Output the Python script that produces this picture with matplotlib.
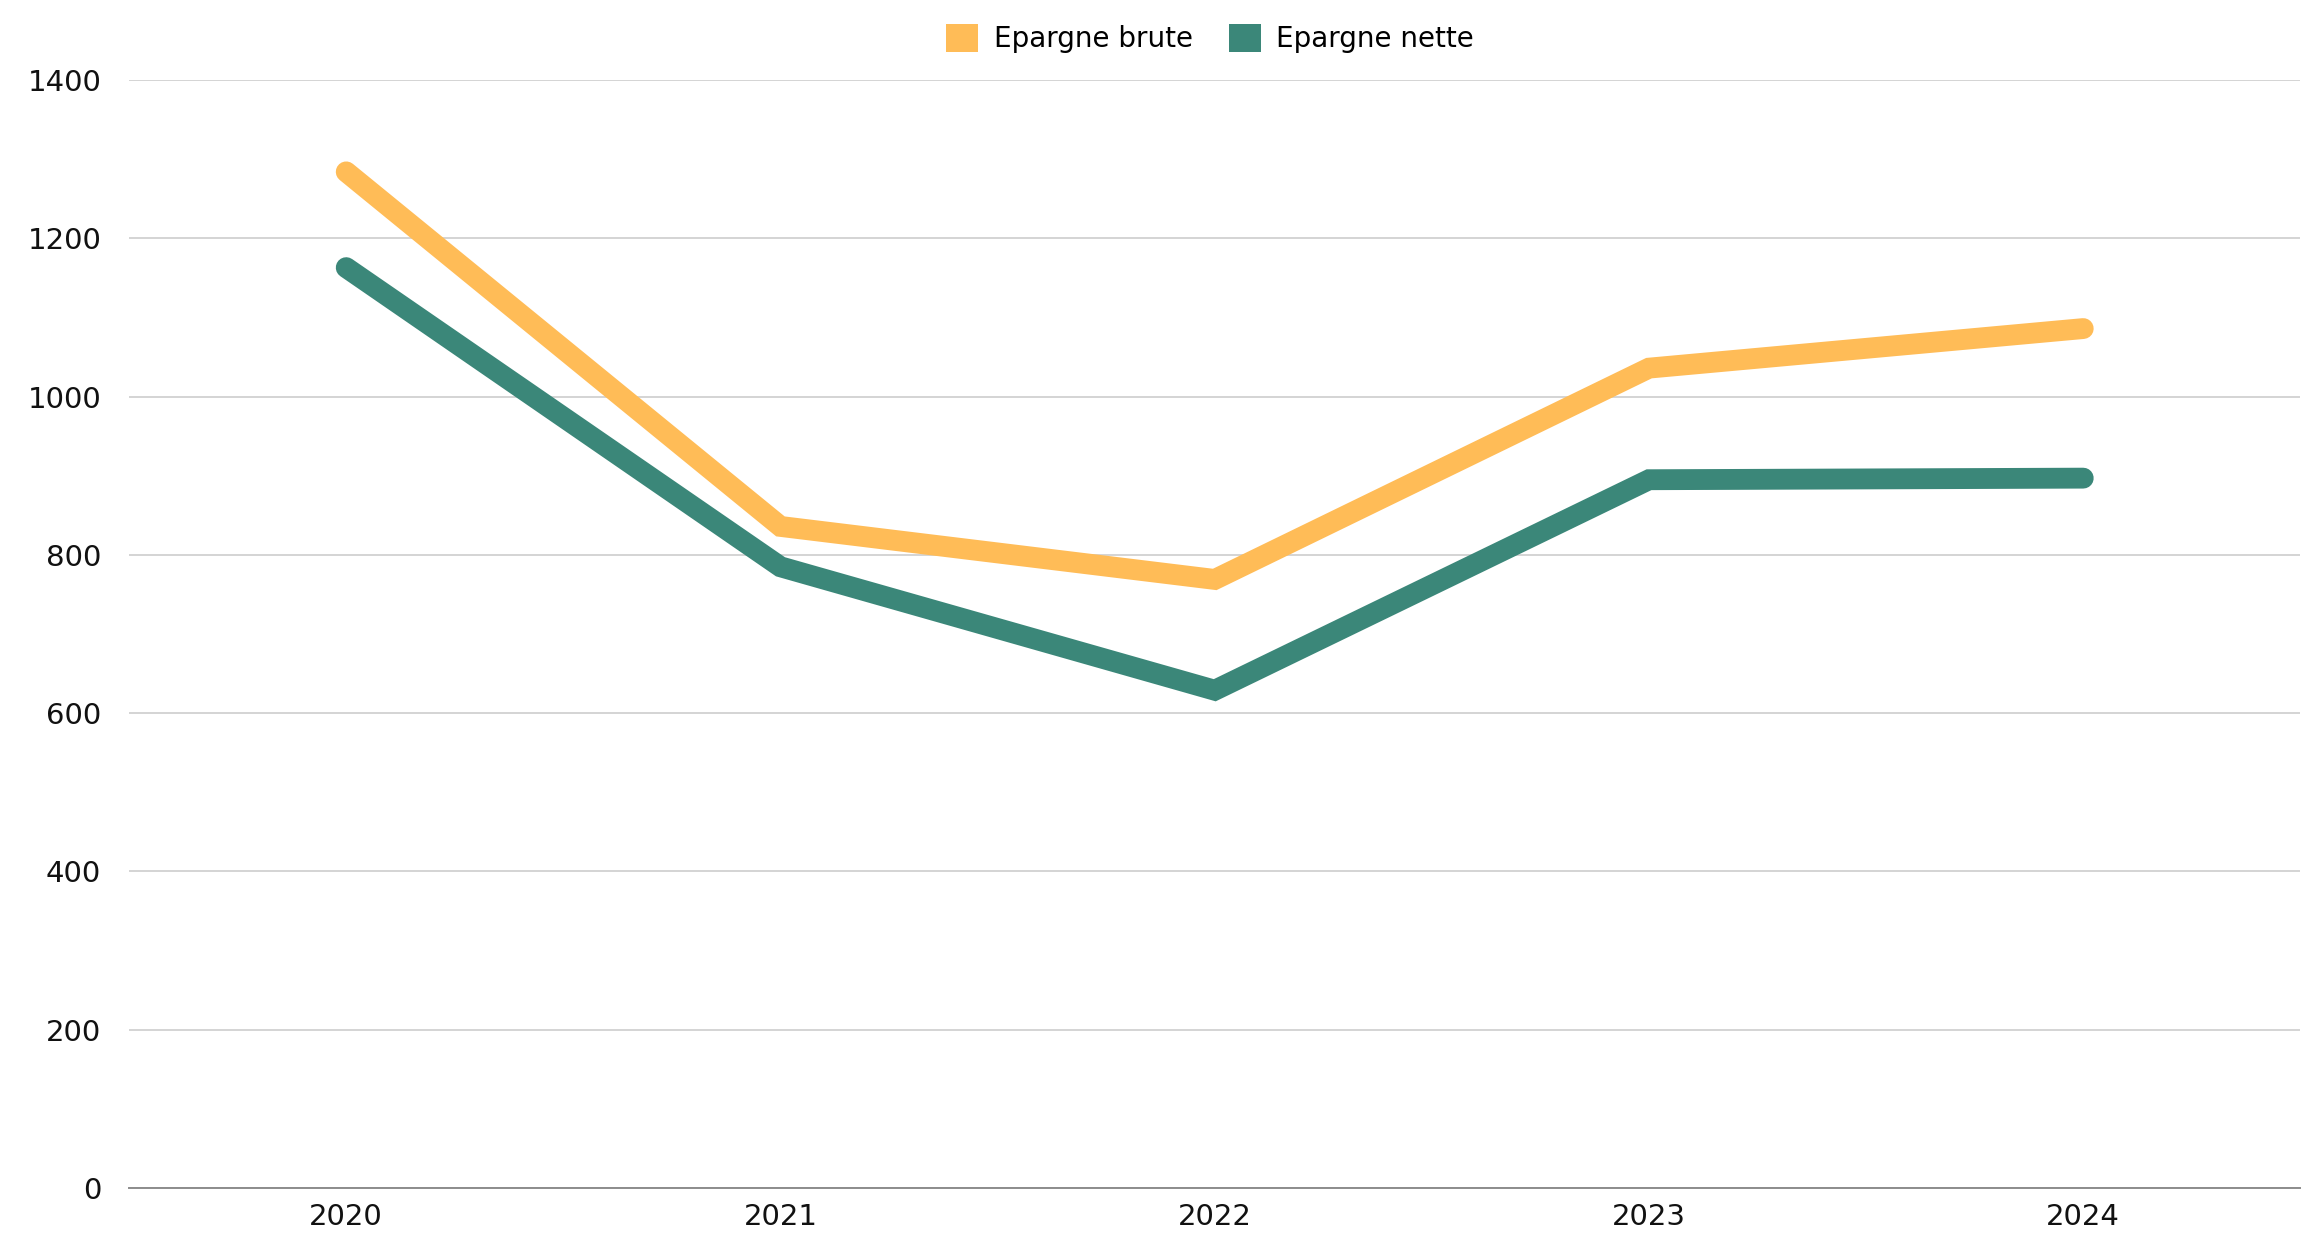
"""
Epargne brute / nette line chart
"""
import matplotlib
matplotlib.use("Agg")
import matplotlib.pyplot as plt
from matplotlib.patches import Patch

# data
years = ["2020", "2021", "2022", "2023", "2024"]
epargne_brute = [1284, 836, 769, 1036, 1086]
epargne_nette = [1163, 785, 629, 895, 897]
y_ticks = [0, 200, 400, 600, 800, 1000, 1200, 1400]

orange = "#FFBC57"
teal = "#3B8779"

plt.rcParams["font.family"] = ["DejaVu Sans"]

fig = plt.figure(figsize=(23.05, 12.43), dpi=100)
ax = fig.add_axes([0.056, 0.0442, 0.942, 0.8914])

x = list(range(len(years)))
ax.plot(x, epargne_brute, color=orange, linewidth=15,
        solid_capstyle="round", solid_joinstyle="miter", zorder=3)
ax.plot(x, epargne_nette, color=teal, linewidth=15,
        solid_capstyle="round", solid_joinstyle="miter", zorder=3)

# axes
ax.set_xlim(-0.5, len(years) - 0.5)
ax.set_ylim(0, 1400)
ax.set_xticks(x)
ax.set_xticklabels(years)
ax.set_yticks(y_ticks)
ax.tick_params(axis="both", length=0, labelsize=21, colors="#111111")
ax.tick_params(axis="y", pad=20)
ax.tick_params(axis="x", pad=11)

ax.grid(axis="y", color="#d4d4d4", linewidth=1.4, zorder=0)
ax.set_axisbelow(True)
for side in ["top", "right", "left"]:
    ax.spines[side].set_visible(False)
ax.spines["bottom"].set_color("#8c8c8c")
ax.spines["bottom"].set_linewidth(1.4)

# legend with square markers
handles = [Patch(facecolor=orange, edgecolor="none", label="Epargne brute"),
           Patch(facecolor=teal, edgecolor="none", label="Epargne nette")]
fig.legend(handles=handles, loc="center", bbox_to_anchor=(0.525, 0.969),
           ncol=2, frameon=False, fontsize=20, handlelength=1.15,
           handleheight=1.15, handletextpad=0.55, columnspacing=1.3)

fig.savefig("out.png", dpi=100)
